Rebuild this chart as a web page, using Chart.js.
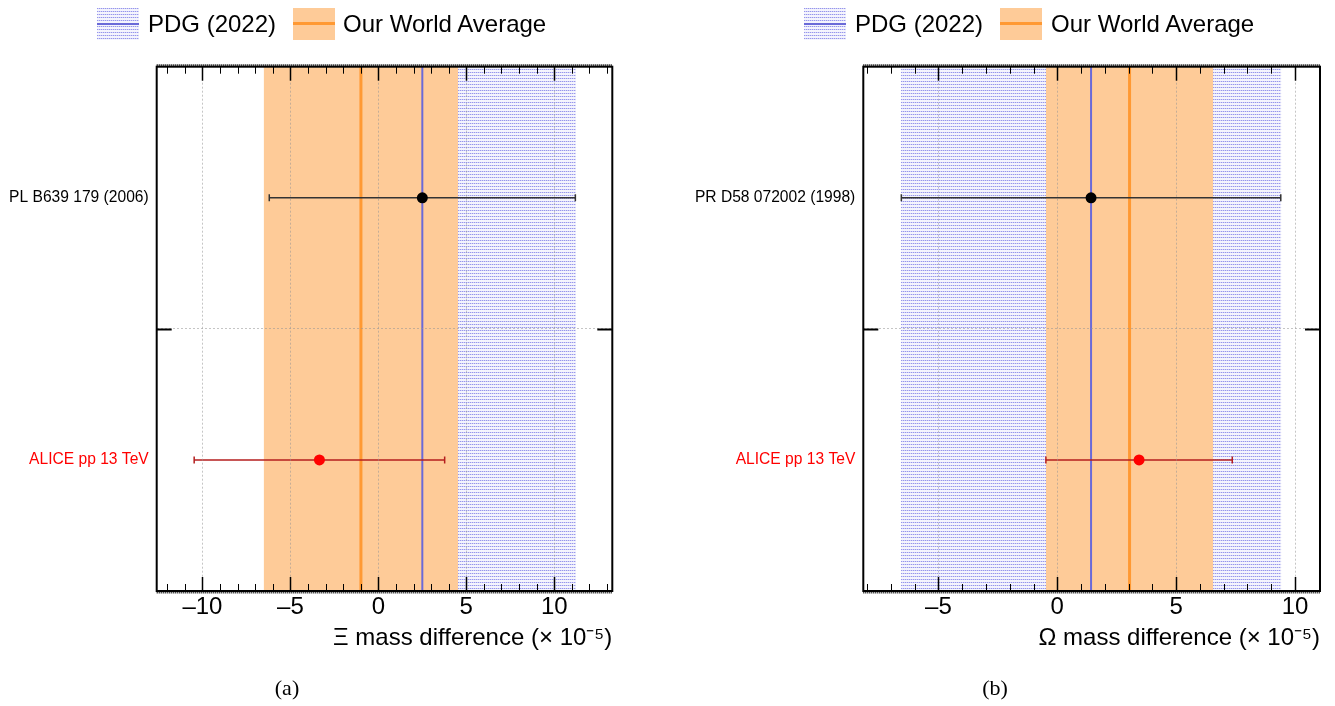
<!DOCTYPE html>
<html>
<head>
<meta charset="utf-8">
<script src="https://cdn.jsdelivr.net/npm/chart.js@4.4.0/dist/chart.umd.min.js"></script>
<style>
  body { margin: 0; background: #fff; width: 1335px; height: 706px; position: relative; overflow: hidden;
         font-family: "Liberation Sans", Arial, sans-serif; }
  canvas { position: absolute; top: 0; }
  .box { position: absolute; top: 8px; width: 42px; height: 32px; }
  .box .ln { position: absolute; left: 0; right: 0; }
  .pdg { background-color: #fff; }
  .pdg .ln { top: 15px; height: 2px; background: #6a6ad8; }
  .avg { background: #fecb98; }
  .avg .ln { top: 14px; height: 3px; background: #ff9933; }
  .txt { position: absolute; top: 8px; height: 32px; line-height: 32px; font-size: 24px; color: #000; white-space: nowrap; }
  .cap { position: absolute; top: 688px; font-family: "Liberation Serif", "DejaVu Serif", serif; font-size: 22px;
         transform: translate(-50%, -50%); }
</style>
</head>
<body>
<canvas id="xiChart" width="667" height="706" style="left:0"></canvas>
<canvas id="omegaChart" width="668" height="706" style="left:667px"></canvas>

<div class="box pdg" style="left:97px"><div class="ln"></div></div>
<div class="txt" style="left:148px">PDG (2022)</div>
<div class="box avg" style="left:293px"><div class="ln"></div></div>
<div class="txt" style="left:343px">Our World Average</div>

<div class="box pdg" style="left:804px"><div class="ln"></div></div>
<div class="txt" style="left:855px">PDG (2022)</div>
<div class="box avg" style="left:1000px"><div class="ln"></div></div>
<div class="txt" style="left:1051px">Our World Average</div>

<div class="cap" style="left:287px">(a)</div>
<div class="cap" style="left:995px">(b)</div>

<script>
// Xi panel
const xiLabels = ['PL B639 179 (2006)', 'ALICE pp 13 TeV'];
const xiValues = [2.5, -3.35];
const xiErrors = [8.7, 7.12];
const xiPdg = [2.5, 8.74];        // value, half width
const xiAverage = [-0.99, 5.53];  // value, half width
const xiRange = [-12.6, 13.3];
const xiTicks = [-10, -5, 0, 5, 10];

// Omega panel
const omegaLabels = ['PR D58 072002 (1998)', 'ALICE pp 13 TeV'];
const omegaValues = [1.42, 3.44];
const omegaErrors = [7.98, 3.92];
const omegaPdg = [1.42, 8.0];
const omegaAverage = [3.04, 3.52];
const omegaRange = [-8.16, 11.05];
const omegaTicks = [-5, 0, 5, 10];

const labelColors = ['#000000', '#ff0000'];
const pointColors = ['#000000', '#ff0000'];
const barColors = ['#333333', '#b41e1e'];

// dotted blue fill like ROOT's fill style
function dotTile() {
  const c = document.createElement('canvas');
  c.width = 2; c.height = 3;
  const g = c.getContext('2d');
  g.fillStyle = '#f4f4fd';
  g.fillRect(0, 0, 2, 3);
  g.fillStyle = '#9696ec';
  g.fillRect(0, 0, 1, 1);
  g.fillStyle = '#d2d2f6';
  g.fillRect(1, 0, 1, 1);
  return c;
}
const tile = dotTile();
document.querySelectorAll('.pdg').forEach(el => {
  el.style.backgroundImage = 'url(' + tile.toDataURL() + ')';
});

// frame, inner tick marks
const framePlugin = {
  id: 'frame',
  afterDraw(chart) {
    const { ctx, chartArea: a, scales: { x, y } } = chart;
    const line = (x1, y1, x2, y2) => { ctx.beginPath(); ctx.moveTo(x1, y1); ctx.lineTo(x2, y2); ctx.stroke(); };
    ctx.save();
    ctx.strokeStyle = '#000';
    for (let v = Math.ceil(x.min); v <= x.max; v++) {
      const px = Math.round(x.getPixelForValue(v)) + 0.5;
      const major = v % 5 === 0;
      const len = major ? 14 : 7;
      ctx.lineWidth = major ? 1.5 : 1;
      line(px, a.bottom, px, a.bottom - len);
      line(px, a.top, px, a.top + len);
    }
    const py = Math.round(y.getPixelForValue(1)) + 0.5;
    ctx.lineWidth = 2;
    line(a.left, py, a.left + 15, py);
    line(a.right, py, a.right - 15, py);
    // fine ticks along top and bottom edges
    ctx.lineWidth = 2;
    ctx.setLineDash([1, 1]);
    line(a.left, a.top - 1.5, a.right, a.top - 1.5);
    line(a.left, a.bottom + 1.5, a.right, a.bottom + 1.5);
    ctx.setLineDash([]);
    ctx.lineWidth = 2;
    ctx.strokeRect(a.left, a.top, a.right - a.left, a.bottom - a.top);
    ctx.restore();
  }
};

function makePanel(id, cfg) {
  const canvas = document.getElementById(id);
  const pattern = canvas.getContext('2d').createPattern(tile, 'repeat');
  const datasets = [];
  // PDG band and average band
  datasets.push({
    type: 'line', data: [{ x: cfg.pdg[0] - cfg.pdg[1], y: 2 }, { x: cfg.pdg[0] + cfg.pdg[1], y: 2 }],
    borderColor: 'transparent', borderWidth: 0, pointRadius: 0, fill: { value: 0 },
    backgroundColor: pattern, order: 6
  });
  datasets.push({
    type: 'line', data: [{ x: cfg.avg[0] - cfg.avg[1], y: 2 }, { x: cfg.avg[0] + cfg.avg[1], y: 2 }],
    borderColor: 'transparent', borderWidth: 0, pointRadius: 0, fill: { value: 0 },
    backgroundColor: '#fecb98', order: 5
  });
  // central values
  datasets.push({
    type: 'line', data: [{ x: cfg.pdg[0], y: 0 }, { x: cfg.pdg[0], y: 2 }],
    borderColor: '#6a6ad8', borderWidth: 2, pointRadius: 0, fill: false, order: 4
  });
  datasets.push({
    type: 'line', data: [{ x: cfg.avg[0], y: 0 }, { x: cfg.avg[0], y: 2 }],
    borderColor: '#ff9933', borderWidth: 3, pointRadius: 0, fill: false, order: 3
  });
  // error bars
  cfg.values.forEach((v, i) => {
    datasets.push({
      type: 'line', data: [{ x: v - cfg.errors[i], y: i + 0.5 }, { x: v + cfg.errors[i], y: i + 0.5 }],
      borderColor: barColors[i], borderWidth: 1.5, fill: false,
      pointStyle: 'line', pointRotation: 90, pointRadius: 3.5,
      pointBorderColor: barColors[i], pointBorderWidth: 1.5, order: 2
    });
  });
  // measurement points
  datasets.push({
    type: 'scatter', data: cfg.values.map((v, i) => ({ x: v, y: i + 0.5 })),
    pointRadius: 5.5, pointBackgroundColor: pointColors, pointBorderColor: pointColors,
    pointBorderWidth: 0, order: 1
  });

  new Chart(canvas, {
    type: 'scatter',
    data: { datasets },
    options: {
      responsive: false,
      animation: false,
      events: [],
      layout: { padding: { top: 66.7, right: cfg.padRight, left: 0, bottom: 0 } },
      plugins: { legend: { display: false }, tooltip: { enabled: false } },
      scales: {
        x: {
          type: 'linear', min: cfg.range[0], max: cfg.range[1],
          afterFit: s => { s.height = 115; },
          afterBuildTicks: s => { s.ticks = cfg.ticks.map(v => ({ value: v })); },
          ticks: {
            color: '#000', font: { size: 24, family: '"Liberation Sans", Arial, sans-serif' },
            padding: 2, maxRotation: 0, autoSkip: false,
            callback: v => (v < 0 ? '\u2013' + (-v) : String(v))
          },
          grid: { color: 'rgba(150,150,150,0.55)', lineWidth: 1, drawTicks: false, z: 1 },
          border: { display: false, dash: [2, 2] },
          title: {
            display: true, text: cfg.title, align: 'end', color: '#000',
            font: { size: 24, family: '"Liberation Sans", Arial, sans-serif' },
            padding: { top: 0, bottom: 53.6 }
          }
        },
        y: {
          type: 'linear', min: 0, max: 2, reverse: true,
          afterFit: s => { s.width = cfg.axisWidth; },
          afterBuildTicks: s => { s.ticks = [0.5, 1, 1.5].map(v => ({ value: v })); },
          ticks: {
            padding: 8, autoSkip: false,
            font: { size: 15.6, family: '"Liberation Sans", Arial, sans-serif' },
            color: c => (c.tick && c.tick.value === 1.5 ? labelColors[1] : labelColors[0]),
            callback: v => {
              const i = v - 0.5;
              return Number.isInteger(i) && cfg.labels[i] ? cfg.labels[i] : '';
            }
          },
          grid: {
            drawTicks: false, lineWidth: 1, z: 1,
            color: c => (c.tick && c.tick.value === 1 ? 'rgba(150,150,150,0.55)' : 'transparent')
          },
          border: { display: false, dash: [2, 2] }
        }
      }
    },
    plugins: [framePlugin]
  });
}

makePanel('xiChart', {
  labels: xiLabels, values: xiValues, errors: xiErrors, pdg: xiPdg, avg: xiAverage,
  range: xiRange, ticks: xiTicks, title: '\u039E mass difference (\u00D7 10\u207B\u2075)',
  axisWidth: 156.7, padRight: 54.7
});
makePanel('omegaChart', {
  labels: omegaLabels, values: omegaValues, errors: omegaErrors, pdg: omegaPdg, avg: omegaAverage,
  range: omegaRange, ticks: omegaTicks, title: '\u03A9 mass difference (\u00D7 10\u207B\u2075)',
  axisWidth: 196.3, padRight: 15
});
</script>
</body>
</html>
